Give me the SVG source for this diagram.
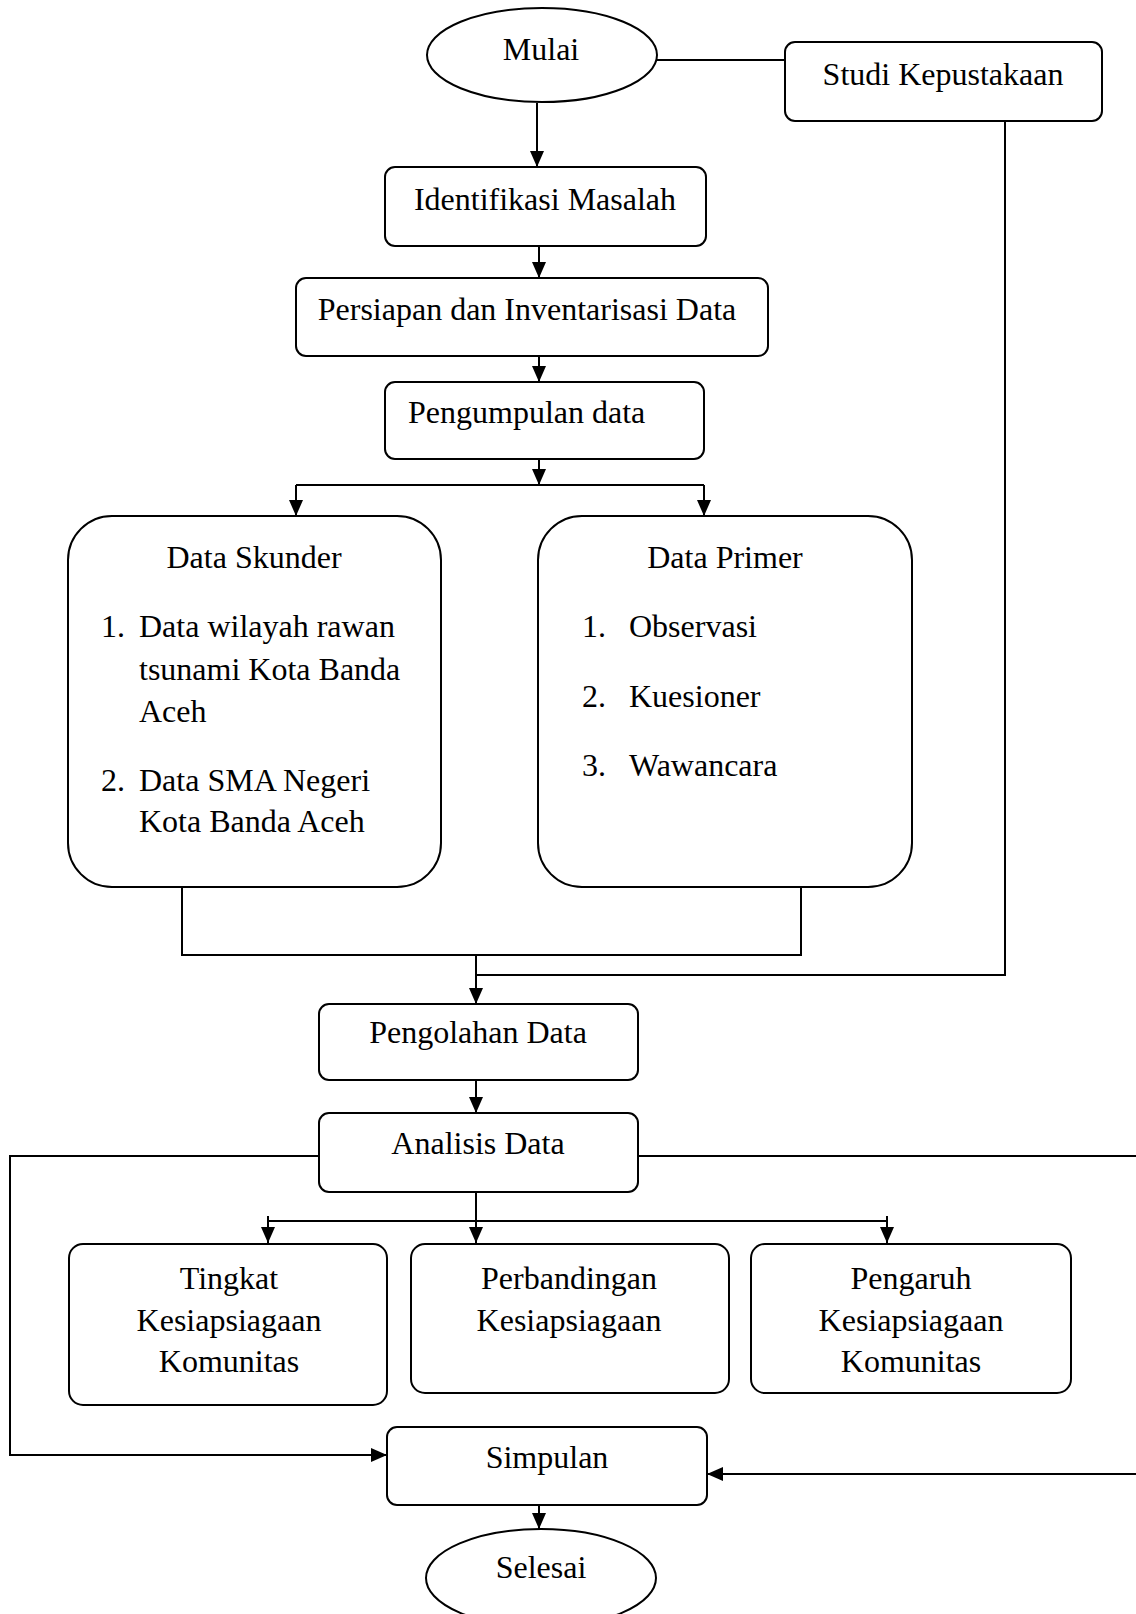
<svg xmlns="http://www.w3.org/2000/svg" width="1136" height="1614" viewBox="0 0 1136 1614">
<style>
.box{fill:#fff;stroke:#000;stroke-width:2}
.ln{fill:none;stroke:#000;stroke-width:2}
.t{font-family:"Liberation Serif","Times New Roman",serif;font-size:32px;fill:#000}
.c{text-anchor:middle}
</style>
<defs>
<marker id="ah" markerUnits="userSpaceOnUse" markerWidth="16" markerHeight="14" refX="16" refY="7" orient="auto">
<path d="M0,0 L16,7 L0,14 z" fill="#000"/>
</marker>
</defs>
<rect width="1136" height="1614" fill="#fff"/>
<g id="connectors">
<path class="ln" d="M657,60 H785"/>
<path class="ln" d="M537,103 V167" marker-end="url(#ah)"/>
<path class="ln" d="M539,246 V278" marker-end="url(#ah)"/>
<path class="ln" d="M539,356 V382" marker-end="url(#ah)"/>
<path class="ln" d="M539,459 V485" marker-end="url(#ah)"/>
<path class="ln" d="M268,1221 H887"/>
<path class="ln" d="M296,485 H704"/>
<path class="ln" d="M296,485 V516" marker-end="url(#ah)"/>
<path class="ln" d="M704,485 V516" marker-end="url(#ah)"/>
<path class="ln" d="M182,887 V955 H801 V887"/>
<path class="ln" d="M1005,121 V975 H476"/>
<path class="ln" d="M476,955 V1004" marker-end="url(#ah)"/>
<path class="ln" d="M476,1080 V1113" marker-end="url(#ah)"/>
<path class="ln" d="M476,1192 V1243" marker-end="url(#ah)"/>
<path class="ln" d="M268,1216 V1243" marker-end="url(#ah)"/>
<path class="ln" d="M887,1216 V1243" marker-end="url(#ah)"/>
<path class="ln" d="M319,1156 H10 V1455 H387" marker-end="url(#ah)"/>
<path class="ln" d="M638,1156 H1138 V1474 H707" marker-end="url(#ah)"/>
<path class="ln" d="M539,1505 V1529" marker-end="url(#ah)"/>
</g>
<g id="mulai">
<ellipse class="box" cx="542" cy="55" rx="115" ry="47"/>
<text class="t c" x="541" y="60">Mulai</text>
</g>
<g id="studi">
<rect class="box" x="785" y="42" width="317" height="79" rx="10"/>
<text class="t c" x="943" y="85">Studi Kepustakaan</text>
</g>
<g id="identifikasi">
<rect class="box" x="385" y="167" width="321" height="79" rx="10"/>
<text class="t c" x="545" y="210">Identifikasi Masalah</text>
</g>
<g id="persiapan">
<rect class="box" x="296" y="278" width="472" height="78" rx="10"/>
<text class="t c" x="527" y="320">Persiapan dan Inventarisasi Data</text>
</g>
<g id="pengumpulan">
<rect class="box" x="385" y="382" width="319" height="77" rx="10"/>
<text class="t" x="408" y="423">Pengumpulan data</text>
</g>
<g id="skunder">
<rect class="box" x="68" y="516" width="373" height="371" rx="44"/>
<text class="t c" x="254" y="568">Data Skunder</text>
<text class="t" x="101" y="637">1.</text>
<text class="t" x="139" y="637">Data wilayah rawan</text>
<text class="t" x="139" y="680">tsunami Kota Banda</text>
<text class="t" x="139" y="722">Aceh</text>
<text class="t" x="101" y="791">2.</text>
<text class="t" x="139" y="791">Data SMA Negeri</text>
<text class="t" x="139" y="832">Kota Banda Aceh</text>
</g>
<g id="primer">
<rect class="box" x="538" y="516" width="374" height="371" rx="44"/>
<text class="t c" x="725" y="568">Data Primer</text>
<text class="t" x="582" y="637">1.</text>
<text class="t" x="629" y="637">Observasi</text>
<text class="t" x="582" y="707">2.</text>
<text class="t" x="629" y="707">Kuesioner</text>
<text class="t" x="582" y="776">3.</text>
<text class="t" x="629" y="776">Wawancara</text>
</g>
<g id="pengolahan">
<rect class="box" x="319" y="1004" width="319" height="76" rx="10"/>
<text class="t c" x="478" y="1043">Pengolahan Data</text>
</g>
<g id="analisis">
<rect class="box" x="319" y="1113" width="319" height="79" rx="10"/>
<text class="t c" x="478" y="1154">Analisis Data</text>
</g>
<g id="tingkat">
<rect class="box" x="69" y="1244" width="318" height="161" rx="14"/>
<text class="t c" x="229" y="1289">Tingkat</text>
<text class="t c" x="229" y="1331">Kesiapsiagaan</text>
<text class="t c" x="229" y="1372">Komunitas</text>
</g>
<g id="perbandingan">
<rect class="box" x="411" y="1244" width="318" height="149" rx="14"/>
<text class="t c" x="569" y="1289">Perbandingan</text>
<text class="t c" x="569" y="1331">Kesiapsiagaan</text>
</g>
<g id="pengaruh">
<rect class="box" x="751" y="1244" width="320" height="149" rx="14"/>
<text class="t c" x="911" y="1289">Pengaruh</text>
<text class="t c" x="911" y="1331">Kesiapsiagaan</text>
<text class="t c" x="911" y="1372">Komunitas</text>
</g>
<g id="simpulan">
<rect class="box" x="387" y="1427" width="320" height="78" rx="10"/>
<text class="t c" x="547" y="1468">Simpulan</text>
</g>
<g id="selesai">
<ellipse class="box" cx="541" cy="1578" rx="115" ry="49"/>
<text class="t c" x="541" y="1578">Selesai</text>
</g>
</svg>
